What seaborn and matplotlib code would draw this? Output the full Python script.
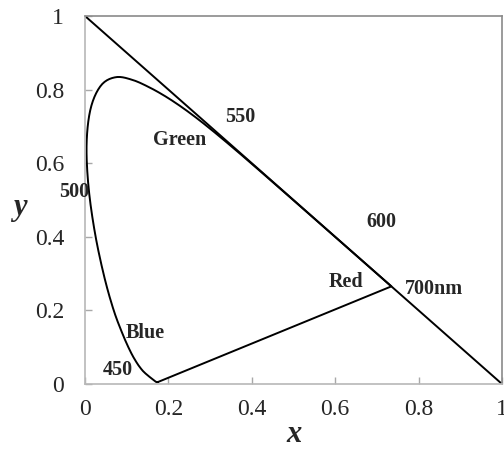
import matplotlib
matplotlib.use("Agg")
import matplotlib.pyplot as plt
import seaborn as sns
import numpy as np
import pandas as pd

# CIE 1931 spectral locus (chromaticity coordinates by wavelength, nm)
wavelength = [380, 390, 400, 410, 420, 430, 440, 450, 460, 465, 470, 475, 480,
              485, 490, 495, 500, 505, 510, 515, 520, 525, 530, 535, 540, 545,
              550, 555, 560, 565, 570, 575, 580, 585, 590, 595, 600, 610, 620,
              630, 640, 650, 660, 680, 700]
locus_x = [0.1741, 0.1738, 0.1733, 0.1726, 0.1714, 0.1689, 0.1644, 0.1566,
           0.1440, 0.1355, 0.1241, 0.1096, 0.0913, 0.0687, 0.0454, 0.0235,
           0.0082, 0.0039, 0.0139, 0.0389, 0.0743, 0.1142, 0.1547, 0.1929,
           0.2296, 0.2658, 0.3016, 0.3373, 0.3731, 0.4087, 0.4441, 0.4788,
           0.5125, 0.5448, 0.5752, 0.6029, 0.6270, 0.6658, 0.6915, 0.7079,
           0.7190, 0.7260, 0.7300, 0.7334, 0.7347]
locus_y = [0.0050, 0.0049, 0.0048, 0.0048, 0.0051, 0.0069, 0.0109, 0.0177,
           0.0297, 0.0399, 0.0578, 0.0868, 0.1327, 0.2007, 0.2950, 0.4127,
           0.5384, 0.6548, 0.7502, 0.8120, 0.8338, 0.8262, 0.8059, 0.7816,
           0.7543, 0.7243, 0.6923, 0.6589, 0.6245, 0.5896, 0.5547, 0.5202,
           0.4866, 0.4544, 0.4242, 0.3965, 0.3725, 0.3340, 0.3083, 0.2920,
           0.2809, 0.2740, 0.2700, 0.2666, 0.2653]

# Line x + y = 1
diag_x = [0.0, 1.0]
diag_y = [1.0, 0.0]

tick_values = [0, 0.2, 0.4, 0.6, 0.8, 1]
tick_labels = ["0", "0.2", "0.4", "0.6", "0.8", "1"]

# Text labels placed in data coordinates
labels_text = ["550", "Green", "500", "600", "Red", "700nm", "Blue", "450"]
labels_x = [0.372, 0.228, -0.026, 0.71, 0.626, 0.837, 0.144, 0.079]
labels_y = [0.725, 0.662, 0.522, 0.44, 0.277, 0.258, 0.138, 0.038]


def smooth_path(xs, ys, steps=12):
    """Catmull-Rom curve through the given points (smoothed line rendering)."""
    p = np.column_stack([xs, ys])
    p = np.vstack([p[0], p, p[-1]])
    out = []
    t = np.linspace(0, 1, steps, endpoint=False)[:, None]
    for i in range(1, len(p) - 2):
        p0, p1, p2, p3 = p[i - 1], p[i], p[i + 1], p[i + 2]
        seg = 0.5 * ((2 * p1) + (-p0 + p2) * t
                     + (2 * p0 - 5 * p1 + 4 * p2 - p3) * t ** 2
                     + (-p0 + 3 * p1 - 3 * p2 + p3) * t ** 3)
        out.append(seg)
    out.append(p[-2][None, :])
    out = np.vstack(out)
    return out[:, 0], out[:, 1]


sns.set_theme(style="white")
plt.rcParams["font.family"] = ["Liberation Serif", "DejaVu Serif"]

fig = plt.figure(figsize=(5.04, 4.5), dpi=100)
ax = fig.add_axes([85 / 504, 66 / 450, 417 / 504, 368 / 450])

# Spectral curve (smoothed) closed by the straight purple line
sx, sy = smooth_path(locus_x, locus_y)
closed = pd.DataFrame({
    "x": np.append(sx, locus_x[0]),
    "y": np.append(sy, locus_y[0]),
})
sns.lineplot(data=closed, x="x", y="y", sort=False, estimator=None,
             color="black", linewidth=1.4, ax=ax)

diag = pd.DataFrame({"x": diag_x, "y": diag_y})
sns.lineplot(data=diag, x="x", y="y", sort=False, estimator=None,
             color="black", linewidth=1.4, ax=ax)

for t, xv, yv in zip(labels_text, labels_x, labels_y):
    ax.text(xv, yv, t, ha="center", va="center", fontsize=14.5,
            fontweight="bold", clip_on=False)

ax.set_xlim(0, 1)
ax.set_ylim(0, 1)
ax.set_xticks(tick_values)
ax.set_xticklabels(tick_labels)
ax.set_yticks(tick_values)
ax.set_yticklabels(tick_labels)
ax.tick_params(axis="both", which="major", direction="in", length=5, width=1,
               color="#a8a8a8", labelsize=17, bottom=True, left=True)
ax.tick_params(axis="x", pad=11)
ax.tick_params(axis="y", pad=15)

for side in ["left", "bottom"]:
    ax.spines[side].set_color("#b8b8b8")
    ax.spines[side].set_linewidth(1.2)
for side in ["top", "right"]:
    ax.spines[side].set_color("#8a8a8a")
    ax.spines[side].set_linewidth(1.2)

ax.set_xlabel("x", fontsize=22, fontweight="bold", style="italic")
ax.set_ylabel("y", fontsize=22, fontweight="bold", style="italic", rotation=0)
ax.xaxis.set_label_coords(0.5, -0.157, transform=ax.transAxes)
ax.yaxis.set_label_coords(-0.156, 0.48)
ax.xaxis.label.set_va("baseline")
ax.yaxis.label.set_va("center")
ax.yaxis.label.set_ha("center")

fig.savefig("out.png", dpi=100)
